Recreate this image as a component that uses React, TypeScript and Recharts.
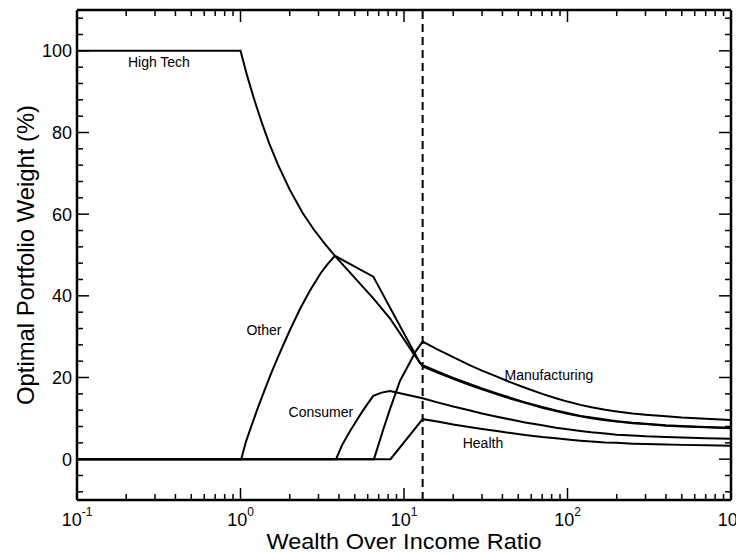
import React from 'react'
import { LineChart, Line, XAxis, YAxis, ReferenceLine, ReferenceDot } from 'recharts'

// wealth/income ratio (x) vs optimal weight in % (y)
const highTech: [number, number][] = [
  [0.1, 100], [1.0, 100], [1.1, 93.8], [1.2, 88.7], [1.35, 82.4], [1.5, 77.3],
  [1.7, 72.0], [2.0, 66.0], [2.4, 60.3], [2.8, 56.3], [3.3, 52.6], [3.78, 49.8],
  [6.49, 39.4], [8.2, 34.5], [11.4, 25.9], [13, 22.7], [16, 21.2], [20, 19.7],
  [25, 18.2], [30, 17.1], [37, 15.9], [45, 14.8], [55, 13.8], [70, 12.6],
  [85, 11.8], [100, 11.1], [120, 10.5], [140, 10.0], [170, 9.5], [200, 9.2],
  [250, 8.8], [300, 8.6], [400, 8.2], [500, 8.0], [700, 7.8], [1000, 7.6],
]
const other: [number, number][] = [
  [0.1, 0], [1.01, 0], [1.08, 4.3], [1.17, 8.3], [1.27, 12.3], [1.4, 16.8],
  [1.55, 21.3], [1.75, 26.3], [2.0, 31.5], [2.3, 36.6], [2.65, 41.2], [3.1, 45.6],
  [3.4, 47.7], [3.78, 49.8], [6.49, 44.7], [12.5, 23.6], [13, 23.0], [16, 21.5],
  [20, 19.9], [25, 18.5], [30, 17.3], [37, 16.1], [45, 15.0], [55, 13.9],
  [70, 12.8], [85, 11.9], [100, 11.3], [120, 10.6], [140, 10.2], [170, 9.7],
  [200, 9.3], [250, 8.9], [300, 8.7], [400, 8.3], [500, 8.1], [700, 7.9], [1000, 7.7],
]
const consumer: [number, number][] = [
  [0.1, 0], [3.84, 0], [4.2, 3.6], [4.68, 6.9], [5.1, 9.3], [5.5, 11.4],
  [6.0, 13.6], [6.49, 15.5], [7.3, 16.3], [8.2, 16.7], [13, 14.9], [16, 13.9],
  [20, 12.9], [25, 12.0], [30, 11.2], [37, 10.4], [45, 9.7], [55, 9.0],
  [70, 8.3], [85, 7.7], [100, 7.3], [120, 6.9], [140, 6.6], [170, 6.3],
  [200, 6.0], [250, 5.8], [300, 5.6], [400, 5.4], [500, 5.3], [700, 5.1], [1000, 5.0],
]
const manufacturing: [number, number][] = [
  [0.1, 0], [6.55, 0], [7.5, 7.5], [8.2, 12.2], [9.46, 19.2], [10.9, 23.8],
  [11.8, 26.4], [13, 28.8], [16, 26.9], [20, 25.0], [25, 23.1], [30, 21.7],
  [37, 20.2], [45, 18.8], [55, 17.5], [70, 16.0], [85, 14.9], [100, 14.1],
  [120, 13.3], [140, 12.7], [170, 12.1], [200, 11.7], [250, 11.2], [300, 10.9],
  [400, 10.5], [500, 10.2], [700, 9.9], [1000, 9.6],
]
const health: [number, number][] = [
  [0.1, 0], [8.27, 0], [13, 9.8], [16, 9.2], [20, 8.5], [25, 7.9], [30, 7.4],
  [37, 6.9], [45, 6.4], [55, 5.9], [70, 5.4], [85, 5.1], [100, 4.8], [120, 4.5],
  [140, 4.3], [170, 4.1], [200, 4.0], [250, 3.8], [300, 3.7], [400, 3.6],
  [500, 3.5], [700, 3.4], [1000, 3.3],
]

const seriesLabels = [
  { name: 'High Tech', x: 0.317, y: 97.3 },
  { name: 'Other', x: 1.39, y: 31.7 },
  { name: 'Consumer', x: 3.1, y: 11.6 },
  { name: 'Manufacturing', x: 77, y: 20.6 },
  { name: 'Health', x: 30.4, y: 4.0 },
]

const xDecades = [0.1, 1, 10, 100, 1000]
const xExponents = ['-1', '0', '1', '2', '3']
const yMajor = [0, 20, 40, 60, 80, 100]
const cutoff = 13

const xTicks: number[] = []
xDecades.forEach((d, i) => {
  if (i === xDecades.length - 1) { xTicks.push(d); return }
  for (let k = 1; k < 10; k++) xTicks.push(+(d * k).toPrecision(3))
})
const yTicks: number[] = []
for (let v = -8; v <= 108; v += 4) yTicks.push(v)
yMajor.forEach(v => { if (!yTicks.includes(v)) yTicks.push(v) })
yTicks.sort((a, b) => a - b)

const toPts = (arr: [number, number][]) => arr.map(([x, y]) => ({ x, y }))
const decadeIndex = (v: number) => xDecades.findIndex(d => Math.abs(d - v) < 1e-9)

const BottomTick = ({ x, y, payload }: any) => {
  const i = decadeIndex(payload.value)
  const major = i >= 0
  return (
    <g>
      <line x1={x} x2={x} y1={y} y2={y - (major ? 12 : 6)} stroke="#000" strokeWidth={1.5} />
      {major && (
        <text x={x} y={y + 26} textAnchor="middle" fontSize={18} fill="#000">
          10<tspan dy={-10} fontSize={12}>{xExponents[i]}</tspan>
        </text>
      )}
    </g>
  )
}

const TopTick = ({ x, y, payload }: any) => {
  const major = decadeIndex(payload.value) >= 0
  return <line x1={x} x2={x} y1={y} y2={y + (major ? 12 : 6)} stroke="#000" strokeWidth={1.5} />
}

const LeftTick = ({ x, y, payload }: any) => {
  const major = yMajor.includes(payload.value)
  return (
    <g>
      <line x1={x} x2={x + (major ? 12 : 6)} y1={y} y2={y} stroke="#000" strokeWidth={1.5} />
      {major && (
        <text x={x - 5} y={y} dy="0.36em" textAnchor="end" fontSize={18} fill="#000">
          {payload.value}
        </text>
      )}
    </g>
  )
}

const RightTick = ({ x, y, payload }: any) => {
  const major = yMajor.includes(payload.value)
  return <line x1={x} x2={x - (major ? 12 : 6)} y1={y} y2={y} stroke="#000" strokeWidth={1.5} />
}

const axisLine = { stroke: '#000', strokeWidth: 2.5 }

const XTitle = ({ viewBox }: any) => (
  <text
    x={viewBox.x + viewBox.width / 2}
    y={viewBox.y + 49}
    textAnchor="middle"
    fontSize={22}
    textLength={275}
    lengthAdjust="spacingAndGlyphs"
    fill="#000"
  >
    Wealth Over Income Ratio
  </text>
)

const YTitle = ({ viewBox }: any) => {
  const cx = viewBox.x + viewBox.width - 52
  const cy = viewBox.y + viewBox.height / 2
  return (
    <text
      x={cx}
      y={cy}
      transform={`rotate(-90 ${cx} ${cy})`}
      textAnchor="middle"
      dy="0.36em"
      fontSize={24}
      textLength={300}
      lengthAdjust="spacingAndGlyphs"
      fill="#000"
    >
      Optimal Portfolio Weight (%)
    </text>
  )
}

export default function App() {
  const lineProps = { dataKey: 'y', type: 'linear' as const, stroke: '#000', strokeWidth: 2, dot: false, isAnimationActive: false }
  return (
    <div style={{ fontFamily: '"Liberation Sans", Arial, Helvetica, sans-serif' }}>
      <LineChart width={736} height={547} margin={{ top: 1, right: 12, left: 68, bottom: 54 }}>
        <XAxis
          dataKey="x"
          type="number"
          scale="log"
          domain={[0.1, 1000]}
          allowDataOverflow
          ticks={xTicks}
          interval={0}
          height={1}
          tickSize={0}
          tickMargin={0}
          tickLine={false}
          axisLine={axisLine}
          tick={<BottomTick />}
          label={<XTitle />}
        />
        <XAxis
          xAxisId="top"
          orientation="top"
          dataKey="x"
          type="number"
          scale="log"
          domain={[0.1, 1000]}
          allowDataOverflow
          ticks={xTicks}
          interval={0}
          height={1}
          tickSize={0}
          tickMargin={0}
          tickLine={false}
          axisLine={axisLine}
          tick={<TopTick />}
        />
        <YAxis
          type="number"
          domain={[-10, 110]}
          allowDataOverflow
          ticks={yTicks}
          interval={0}
          width={1}
          tickSize={0}
          tickMargin={0}
          tickLine={false}
          axisLine={axisLine}
          tick={<LeftTick />}
          label={<YTitle />}
        />
        <YAxis
          yAxisId="right"
          orientation="right"
          type="number"
          domain={[-10, 110]}
          allowDataOverflow
          ticks={yTicks}
          interval={0}
          width={1}
          tickSize={0}
          tickMargin={0}
          tickLine={false}
          axisLine={axisLine}
          tick={<RightTick />}
        />
        <ReferenceLine x={cutoff} stroke="#000" strokeWidth={2} strokeDasharray="8 5" />
        <Line data={toPts(highTech)} {...lineProps} />
        <Line data={toPts(other)} {...lineProps} />
        <Line data={toPts(consumer)} {...lineProps} />
        <Line data={toPts(manufacturing)} {...lineProps} />
        <Line data={toPts(health)} {...lineProps} />
        {seriesLabels.map(l => (
          <ReferenceDot
            key={l.name}
            x={l.x}
            y={l.y}
            r={0}
            fill="none"
            stroke="none"
            label={{ value: l.name, position: 'center', fontSize: 14, fill: '#000' }}
          />
        ))}
      </LineChart>
    </div>
  )
}
